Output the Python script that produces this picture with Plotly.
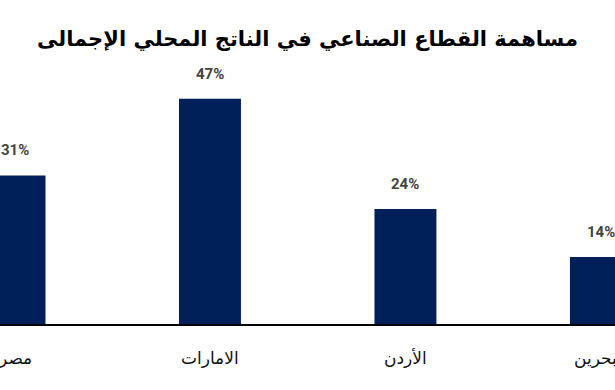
import plotly.graph_objects as go

categories = ["مصر", "الامارات", "الأردن", "البحرين"]
values = [31, 47, 24, 14]
value_labels = ["31%", "47%", "24%", "14%"]
title_text = "مساهمة القطاع الصناعي في الناتج المحلي الإجمالى"

x_idx = list(range(len(categories)))

fig = go.Figure()
fig.add_trace(go.Bar(
    x=x_idx, y=values, marker=dict(color="#001f5b", line=dict(width=0)),
    width=0.317, hoverinfo="skip"
))

for xi, v, lab in zip(x_idx, values, value_labels):
    fig.add_annotation(x=xi, y=v, text=lab, showarrow=False, yshift=25,
                       font=dict(family="Roboto", size=15, color="#444444", weight="bold"))

for xi, cat in zip(x_idx, categories):
    fig.add_annotation(x=xi, y=0, yref="paper", text=cat, showarrow=False, yshift=-34,
                       yanchor="middle",
                       font=dict(family="DejaVu Sans", size=17, color="#111111"))

fig.update_layout(
    width=615, height=390,
    margin=dict(l=0, r=0, t=0, b=66),
    paper_bgcolor="white", plot_bgcolor="white",
    showlegend=False,
    title=dict(text=title_text, x=0.5, xanchor="center", y=1 - 39/390, yanchor="middle",
               font=dict(family="DejaVu Sans", size=21, color="#000000", weight="bold")),
    xaxis=dict(range=[-0.0742, 3.072], showticklabels=False,
               showgrid=False, zeroline=False, showline=True, linecolor="#000000", linewidth=2,
               ticks=""),
    yaxis=dict(range=[0, 67.6], visible=False, showgrid=False, zeroline=False),
)

fig.write_html("out.html")
